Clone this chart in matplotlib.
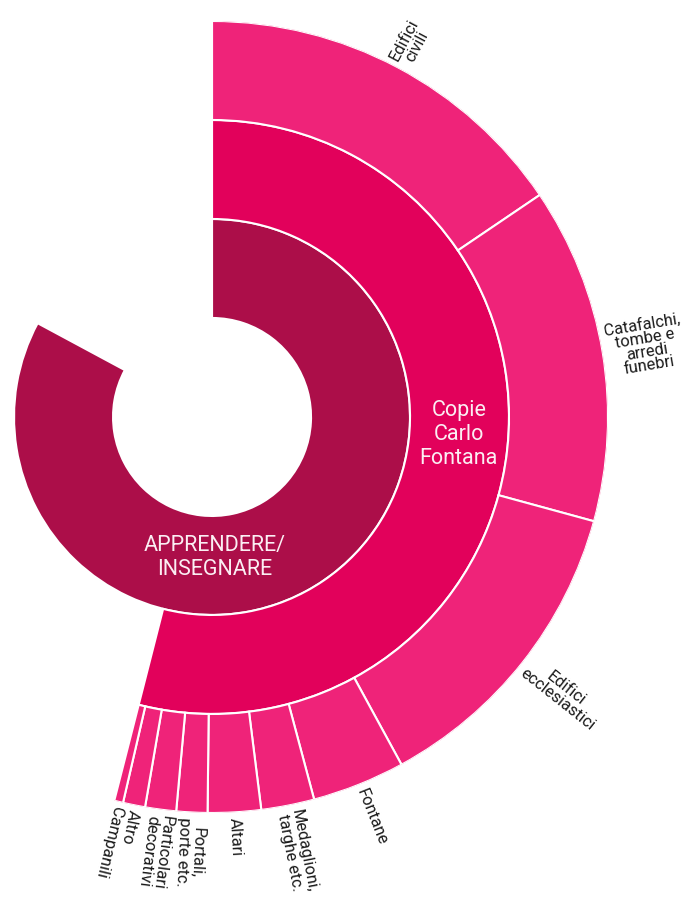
import numpy as np
import matplotlib.pyplot as plt

plt.rcParams['font.family'] = ['Roboto', 'DejaVu Sans']

# numero di disegni per livello (il totale include le categorie non mostrate)
total = 554
ring1_label = "APPRENDERE/\nINSEGNARE"
ring1_value = 459
ring2_label = "Copie\nCarlo\nFontana"
ring2_value = 299
outer_labels = [
    "Edifici\ncivili",
    "Catafalchi,\ntombe e\narredi\nfunebri",
    "Edifici\necclesiastici",
    "Fontane",
    "Medaglioni,\ntarghe etc.",
    "Altari",
    "Portali,\nporte etc.",
    "Particolari\ndecorativi",
    "Altro",
    "Campanili",
]
outer_values = [86, 76, 71, 21, 12, 12, 7, 7, 5, 2]

col_ring1 = '#AC0E49'
col_ring2 = '#E2015B'
col_outer = '#EF2379'

to_rad = 2 * np.pi / total

fig = plt.figure(figsize=(6.89, 9.01), dpi=100)
ax = fig.add_axes([-0.267, 0.0977, 1.1495, 0.879], projection='polar')
ax.set_theta_zero_location('N')
ax.set_theta_direction(-1)
ax.set_ylim(0, 4)
ax.axis('off')

bar_kw = dict(align='edge', edgecolor='white', linewidth=1.5)

# === anello interno e medio ===
ax.bar(0, 1, width=ring1_value * to_rad, bottom=1, color=col_ring1, **bar_kw)
ax.bar(0, 1, width=ring2_value * to_rad, bottom=2, color=col_ring2, **bar_kw)

ax.text(np.deg2rad(178.8), 1.42, ring1_label, color='#fbeef3', fontsize=15.5,
        ha='center', va='center', linespacing=1.2)
ax.text(np.deg2rad(94.0), 2.50, ring2_label, color='#fbeef3', fontsize=15.5,
        ha='center', va='center', linespacing=1.2)

# === anello esterno: sottocategorie ===
starts = np.concatenate([[0], np.cumsum(outer_values)[:-1]])
for lab, start, val in zip(outer_labels, starts, outer_values):
    ax.bar(start * to_rad, 1, width=val * to_rad, bottom=3, color=col_outer, **bar_kw)
    mid = (start + val / 2) * to_rad
    ax.text(mid, 4.05, lab, rotation=90 - np.rad2deg(mid), rotation_mode='anchor',
            ha='left', va='center', multialignment='center',
            fontsize=11.8, color='#1a1a1a', linespacing=0.9)

fig.savefig('out.png', dpi=100)
